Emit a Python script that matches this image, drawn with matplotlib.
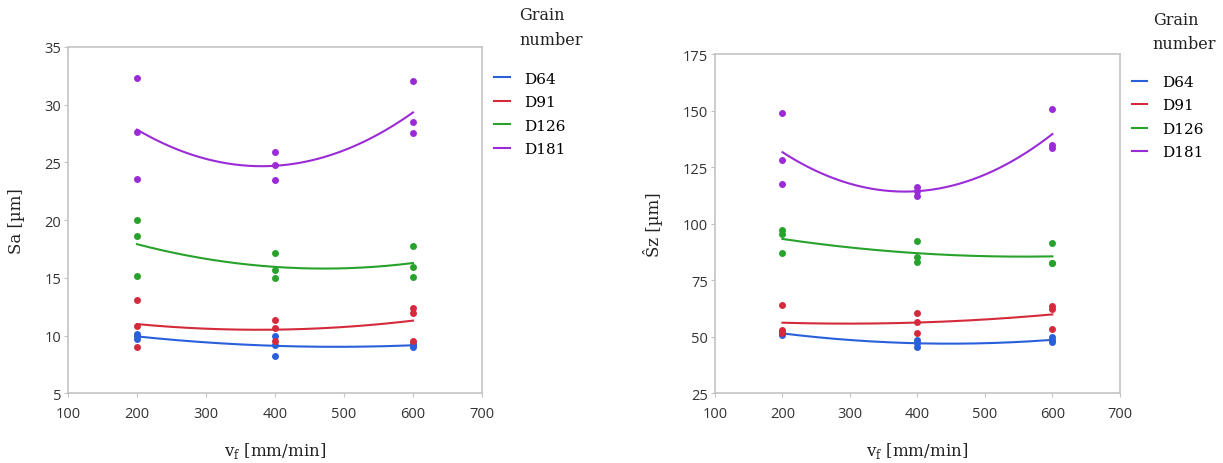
import numpy as np
import matplotlib
matplotlib.use('Agg')
import matplotlib.pyplot as plt
from matplotlib.lines import Line2D

# --- data ---
vf = [200, 200, 200, 400, 400, 400, 600, 600, 600]
grains = ['D64', 'D91', 'D126', 'D181']
colors = ['#2a5fdb', '#d42a3c', '#27a22b', '#9a2bd6']

sa_d64 = [10.1, 9.95, 9.75, 9.95, 9.2, 8.2, 9.05, 9.15, 9.3]
sa_d91 = [13.1, 10.85, 9.05, 11.35, 10.7, 9.5, 12.35, 12.0, 9.55]
sa_d126 = [20.0, 18.6, 15.15, 17.15, 15.7, 15.0, 17.8, 15.95, 15.1]
sa_d181 = [32.3, 27.6, 23.6, 25.9, 24.75, 23.45, 32.0, 28.45, 27.5]

sz_d64 = [52.3, 51.5, 50.8, 48.8, 47.3, 45.4, 49.9, 48.6, 47.6]
sz_d91 = [64.0, 52.9, 51.9, 60.5, 56.6, 51.9, 63.7, 62.4, 53.7]
sz_d126 = [97.4, 95.6, 86.9, 92.5, 85.2, 83.3, 91.4, 82.6, 82.8]
sz_d181 = [149.1, 128.2, 117.7, 116.3, 114.5, 112.5, 150.9, 134.7, 133.5]

sa_ticks = [5, 10, 15, 20, 25, 30, 35]
sz_ticks = [25, 50, 75, 100, 125, 150, 175]
x_ticks = [100, 200, 300, 400, 500, 600, 700]

serif = 'DejaVu Serif'
tick_font = 'Open Sans'
spine_col = '#c4c4c4'


def draw_panel(ax, series, yticks, ylabel):
    for y, c in zip(series, colors):
        ax.scatter(vf, y, s=25, color=c, zorder=3, linewidths=0)
        # quadratic fit line, like the original smoother
        p = np.polyfit(vf, y, 2)
        xx = np.linspace(200, 600, 200)
        ax.plot(xx, np.polyval(p, xx), color=c, lw=1.5, zorder=2)
    ax.set_xlim(100, 700)
    ax.set_ylim(yticks[0], yticks[-1])
    ax.set_xticks(x_ticks)
    ax.set_yticks(yticks)
    for s in ax.spines.values():
        s.set_color(spine_col)
        s.set_linewidth(1.2)
    ax.tick_params(length=3, color=spine_col, labelsize=10.5,
                   labelcolor='#333333', pad=2)
    ax.tick_params(axis='x', pad=6)
    for lab in ax.get_xticklabels() + ax.get_yticklabels():
        lab.set_family(tick_font)
    ax.set_ylabel(ylabel, family=serif, fontsize=12, color='#222222',
                  labelpad=14)
    ax.set_xlabel(r'v$_\mathregular{f}$ [mm/min]', family=serif, fontsize=12,
                  color='#222222', labelpad=14)


fig = plt.figure(figsize=(12.23, 4.64), dpi=100)
ax1 = fig.add_axes([0.0556, 0.150, 0.3385, 0.747])
ax2 = fig.add_axes([0.5846, 0.150, 0.3311, 0.731])

draw_panel(ax1, [sa_d64, sa_d91, sa_d126, sa_d181], sa_ticks, 'Sa [µm]')
draw_panel(ax2, [sz_d64, sz_d91, sz_d126, sz_d181], sz_ticks, 'Ŝz [µm]')

handles = [Line2D([0], [0], color=c, lw=1.5) for c in colors]
for ax, tx, ty, lx, ly in [(ax1, 0.4245, 0.985, 0.393, 0.873),
                           (ax2, 0.9425, 0.975, 0.9145, 0.866)]:
    fig.text(tx, ty, 'Grain\nnumber', family=serif, fontsize=11.5,
             color='#222222', va='top', ha='left', linespacing=1.6)
    fig.legend(handles, grains, loc='upper left', bbox_to_anchor=(lx, ly),
               frameon=False, handlelength=1.0, handletextpad=0.95,
               labelspacing=0.62,
               prop={'family': serif, 'size': 11})

fig.savefig('out.png', dpi=100)
